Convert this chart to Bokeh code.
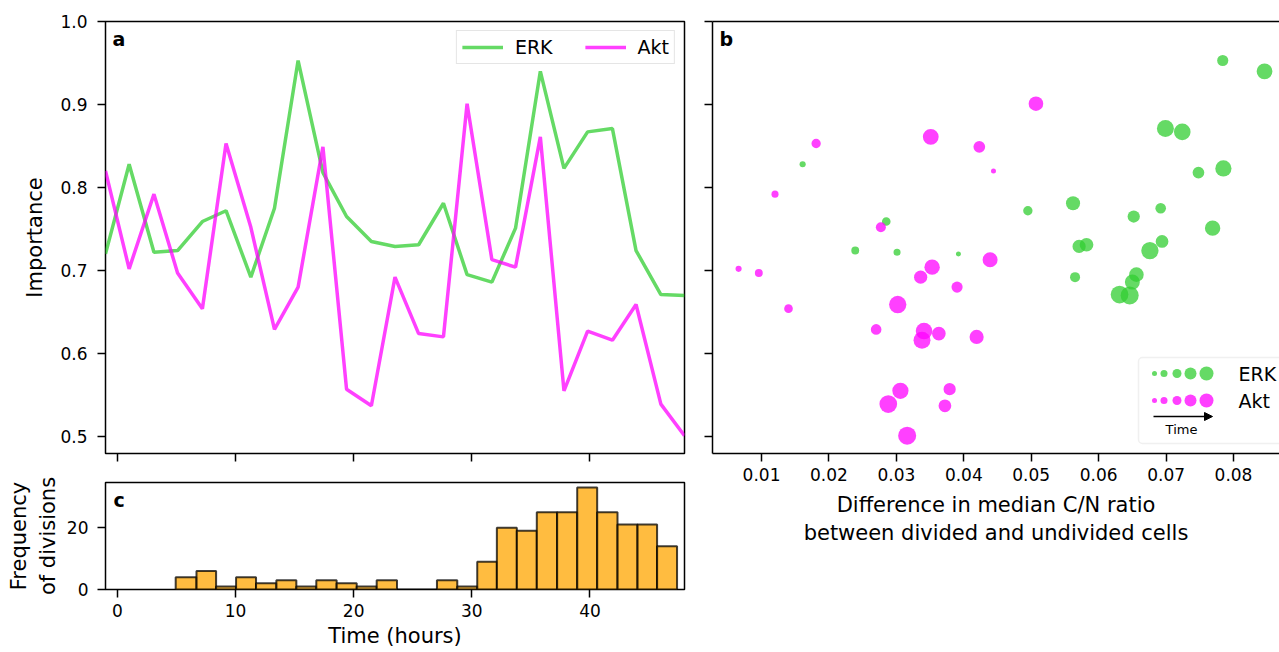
import numpy as np
from bokeh.plotting import figure
from bokeh.models import (Range1d, FixedTicker, Legend, LegendItem, Label, BoxAnnotation,
                          Arrow, NormalHead, LinearAxis, PrintfTickFormatter)
from bokeh.layouts import row, column
from bokeh.embed import file_html
from bokeh.resources import INLINE

# ---------------- data ----------------
times = [-1.0, 1.0, 3.1, 5.1, 7.2, 9.2, 11.3, 13.3, 15.3, 17.4, 19.4, 21.5, 23.5,
         25.5, 27.6, 29.6, 31.7, 33.7, 35.8, 37.8, 39.8, 41.9, 43.9, 46.0, 48.0]
erk_importance = [0.720, 0.828, 0.722, 0.724, 0.759, 0.772, 0.692, 0.775, 0.953, 0.818,
                  0.765, 0.735, 0.729, 0.731, 0.781, 0.695, 0.686, 0.751, 0.940, 0.823,
                  0.867, 0.871, 0.724, 0.671, 0.670]
akt_importance = [0.820, 0.702, 0.792, 0.697, 0.654, 0.853, 0.752, 0.629, 0.680, 0.849,
                  0.557, 0.537, 0.692, 0.624, 0.620, 0.901, 0.713, 0.704, 0.861, 0.555,
                  0.627, 0.616, 0.659, 0.539, 0.501]
erk_cn_diff = [0.0392, 0.0161, 0.0301, 0.0239, 0.0285, 0.0495, 0.0565, 0.0692, 0.0784, 0.0748,
               0.0652, 0.0694, 0.0571, 0.0582, 0.0562, 0.0656, 0.0650, 0.0769, 0.0846, 0.0785,
               0.0724, 0.0699, 0.0676, 0.0631, 0.0646]
akt_cn_diff = [0.0444, 0.0066, 0.0120, 0.0096, 0.0140, 0.0181, 0.0277, 0.0270, 0.0390, 0.0423,
               0.0379, 0.0372, 0.0336, 0.0363, 0.0419, 0.0507, 0.0439, 0.0353, 0.0351, 0.0306,
               0.0341, 0.0338, 0.0302, 0.0288, 0.0316]
hist_edges = [4.94, 6.70, 8.36, 10.05, 11.74, 13.46, 15.15, 16.84, 18.56, 20.26, 21.95, 23.67,
              25.36, 27.05, 28.77, 30.46, 32.12, 33.81, 35.50, 37.22, 38.92, 40.61, 42.33,
              44.02, 45.68, 47.37]
hist_counts = [4, 6, 1, 4, 2, 3, 1, 3, 2, 1, 3, 0, 0, 3, 1, 9, 20, 19, 25, 25, 33, 25, 21, 21, 14]

a_yticks = [0.5, 0.6, 0.7, 0.8, 0.9, 1.0]
time_ticks = [0, 10, 20, 30, 40]
c_yticks = [0, 20]
b_xticks = [0.01, 0.02, 0.03, 0.04, 0.05, 0.06, 0.07, 0.08]

# ---------------- style ----------------
FONT = "DejaVu Sans"
GREEN = "limegreen"
MAGENTA = "magenta"
ALPHA = 0.75
LABEL_SIZE = "21px"

XA = (-1.0, 48.0)
YA = (0.4795, 1.0)
XB = (0.00273, 0.08682)
YC = (0.0, 34.6)


def style_axis(ax, ticks, labels=True):
    ax.ticker = FixedTicker(ticks=ticks)
    ax.major_tick_out = 8
    ax.major_tick_in = 0
    ax.minor_tick_out = 0
    ax.minor_tick_in = 0
    ax.major_tick_line_width = 1.5
    ax.major_tick_line_color = "black"
    ax.major_label_text_font = FONT
    ax.major_label_text_font_size = "17px" if labels else "1px"
    ax.major_label_text_color = "black"
    if not labels:
        ax.major_label_overrides = {t: "" for t in ticks}
        ax.major_label_standoff = 0
    ax.axis_label_text_font = FONT
    ax.axis_label_text_font_size = LABEL_SIZE
    ax.axis_label_text_font_style = "normal"
    ax.axis_label_text_color = "black"


def mapper(fl, fr, ft, fb, xr, yr):
    def fx(px):
        return xr[0] + (px - fl) / (fr - fl) * (xr[1] - xr[0])

    def fy(py):
        return yr[1] - (py - ft) / (fb - ft) * (yr[1] - yr[0])
    return fx, fy


def txt(x, y, text, size="19px", bold=False, align="left"):
    return Label(x=x, y=y, text=text, text_font=FONT, text_font_size=size,
                 text_font_style="bold" if bold else "normal", text_color="black",
                 text_baseline="middle", text_align=align)


# ---------------- panel a ----------------
pa = figure(width=692, height=468, x_range=Range1d(*XA), y_range=Range1d(*YA),
            output_backend="svg", toolbar_location=None,
            min_border_left=105, min_border_right=8, min_border_top=21, min_border_bottom=15)
pa.xgrid.visible = False
pa.ygrid.visible = False
pa.outline_line_color = "black"
pa.outline_line_width = 1.5
for ax in pa.xaxis:
    style_axis(ax, time_ticks, labels=False)
    ax.axis_line_color = None
for ax in pa.yaxis:
    style_axis(ax, a_yticks)
    ax.formatter = PrintfTickFormatter(format="%.1f")
    ax.axis_line_color = None
    ax.major_label_standoff = 10
    ax.axis_label = "Importance"
    ax.axis_label_standoff = 10

l_erk = pa.line(times, erk_importance, line_color=GREEN, line_alpha=ALPHA, line_width=3.5)
l_akt = pa.line(times, akt_importance, line_color=MAGENTA, line_alpha=ALPHA, line_width=3.5)

leg = Legend(items=[LegendItem(label="ERK", renderers=[l_erk]),
                    LegendItem(label="Akt", renderers=[l_akt])],
             orientation="horizontal", location="top_right", margin=9,
             padding=5, spacing=32, label_standoff=12, glyph_width=41, glyph_height=20,
             label_text_font=FONT, label_text_font_size="19px", label_text_color="black",
             border_line_color="#cccccc", border_line_width=1.5,
             background_fill_color="white", background_fill_alpha=0.8)
pa.add_layout(leg)

ax_, ay_ = mapper(105, 684, 21, 453, XA, YA)
pa.add_layout(txt(ax_(112), ay_(38), "a", bold=True))

# ---------------- panel c ----------------
pc = figure(width=692, height=184, x_range=pa.x_range, y_range=Range1d(*YC),
            output_backend="svg", toolbar_location=None,
            min_border_left=105, min_border_right=8, min_border_top=14, min_border_bottom=63)
pc.xgrid.visible = False
pc.ygrid.visible = False
pc.outline_line_color = "black"
pc.outline_line_width = 1.5
for ax in pc.xaxis:
    style_axis(ax, time_ticks)
    ax.axis_line_color = None
    ax.major_label_standoff = 6
    ax.axis_label = "Time (hours)"
    ax.axis_label_standoff = 4
for ax in pc.yaxis:
    style_axis(ax, c_yticks)
    ax.axis_line_color = None
    ax.major_label_standoff = 9
    ax.axis_label = "Frequency\nof divisions"
    ax.axis_label_standoff = 4

pc.quad(left=hist_edges[:-1], right=hist_edges[1:], bottom=0, top=hist_counts,
        fill_color="orange", fill_alpha=ALPHA, line_color="black", line_alpha=ALPHA,
        line_width=2)

cx_, cy_ = mapper(105, 684, 482, 589, XA, YC)
pc.add_layout(txt(cx_(113), cy_(499), "c", bold=True))

# ---------------- panel b ----------------
pb = figure(width=587, height=560, x_range=Range1d(*XB), y_range=Range1d(*YA),
            output_backend="svg", toolbar_location=None,
            min_border_left=20, min_border_right=0, min_border_top=21, min_border_bottom=107)
pb.xgrid.visible = False
pb.ygrid.visible = False
pb.outline_line_color = None
for ax in pb.xaxis:
    style_axis(ax, b_xticks)
    ax.formatter = PrintfTickFormatter(format="%.2f")
    ax.axis_line_color = "black"
    ax.axis_line_width = 1.5
    ax.major_label_standoff = 6
    ax.axis_label = "Difference in median C/N ratio\nbetween divided and undivided cells"
    ax.axis_label_standoff = 9
for ax in pb.yaxis:
    style_axis(ax, a_yticks, labels=False)
    ax.axis_line_color = "black"
    ax.axis_line_width = 1.5
top_ax = LinearAxis(ticker=FixedTicker(ticks=[]), major_tick_out=0, major_tick_in=0,
                    minor_tick_out=0, minor_tick_in=0, major_label_text_font_size="1px",
                    axis_line_color="black", axis_line_width=1.5, major_label_standoff=0)
pb.add_layout(top_ax, "above")

sizes = np.sqrt(25 + 12.5 * np.arange(len(times)))
pb.scatter(erk_cn_diff, erk_importance, size=sizes, fill_color=GREEN, fill_alpha=ALPHA,
           line_color=None)
pb.scatter(akt_cn_diff, akt_importance, size=sizes, fill_color=MAGENTA, fill_alpha=ALPHA,
           line_color=None)

bx_, by_ = mapper(712, 1279, 21, 453, XB, YA)
pb.add_layout(txt(bx_(719), by_(38), "b", bold=True))

# custom legend for panel b
pb.add_layout(BoxAnnotation(left=bx_(1138), right=bx_(1310), top=by_(357), bottom=by_(443),
                            fill_color="white", fill_alpha=0.8, line_color="#cccccc",
                            line_width=1.5, border_radius=4, level="underlay"))
leg_px = [1154, 1163.5, 1176.5, 1190, 1206]
leg_sz = [5, 7, 9, 12, 14]
pb.scatter([bx_(p) for p in leg_px], [by_(373)] * 5, size=leg_sz, fill_color=GREEN,
           fill_alpha=ALPHA, line_color=None)
pb.scatter([bx_(p) for p in leg_px], [by_(400)] * 5, size=leg_sz, fill_color=MAGENTA,
           fill_alpha=ALPHA, line_color=None)
pb.add_layout(txt(bx_(1238), by_(373), "ERK"))
pb.add_layout(txt(bx_(1238), by_(400), "Akt"))
pb.add_layout(Arrow(end=NormalHead(size=8, fill_color="black", line_color="black"),
                    x_start=bx_(1153), y_start=by_(416), x_end=bx_(1212), y_end=by_(416),
                    line_color="black", line_width=1.5))
pb.add_layout(txt(bx_(1181), by_(429), "Time", size="13px", align="center"))

layout = row(column(pa, pc), pb)
open("out.html", "w").write(file_html(layout, INLINE))
